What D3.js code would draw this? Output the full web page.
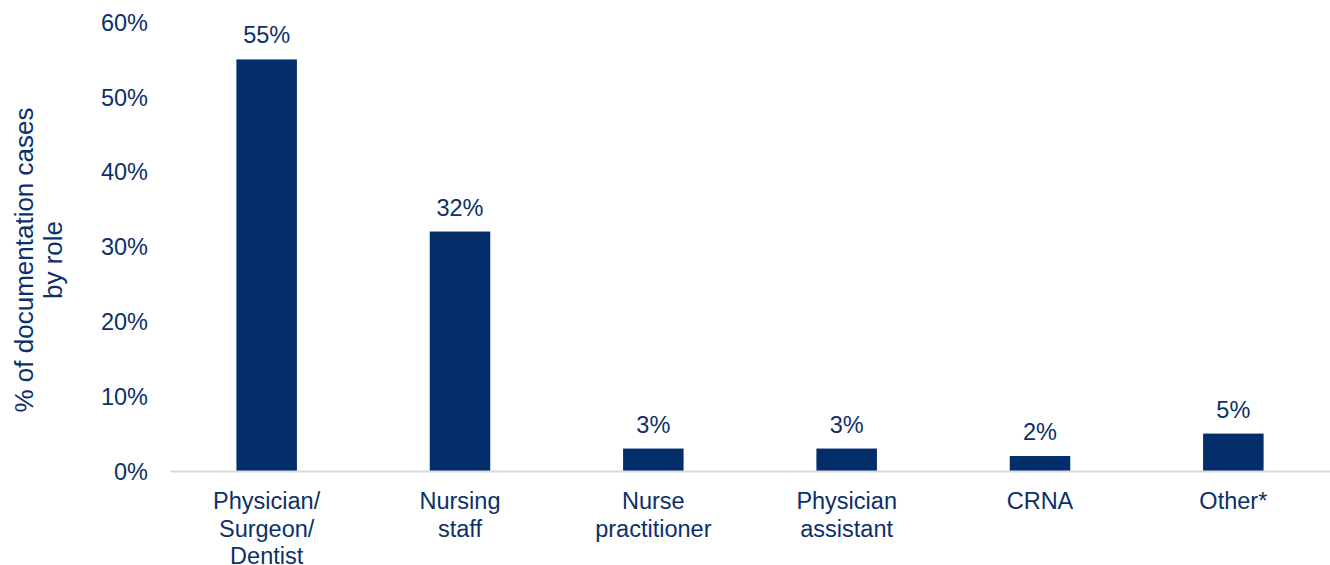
<!DOCTYPE html>
<html>
<head>
<meta charset="utf-8">
<script src="https://cdn.jsdelivr.net/npm/d3@7"></script>
<style>
  html, body { margin: 0; padding: 0; background: #fff; }
  svg { display: block; }
  text { font-family: "Liberation Sans", Arial, sans-serif; fill: #0c3069; }
</style>
</head>
<body>
<svg id="chart" width="1330" height="565"></svg>
<script>
const categories = [
  ["Physician/", "Surgeon/", "Dentist"],
  ["Nursing", "staff"],
  ["Nurse", "practitioner"],
  ["Physician", "assistant"],
  ["CRNA"],
  ["Other*"]
];
const values = [55, 32, 3, 3, 2, 5];
const yTicks = [0, 10, 20, 30, 40, 50, 60];
const yTitle = ["% of documentation cases", "by role"];

const svg = d3.select("#chart");
const barColor = "#032e69";
const textColor = "#0c3069";

const keys = categories.map(c => c.join(" "));
const x = d3.scaleBand().domain(keys).range([170, 1330]).paddingInner(0.687).paddingOuter(0.3435);
const y = d3.scaleLinear().domain([0, 60]).range([471, 22]);

// Y axis ticks (no line)
const yAxis = d3.axisLeft(y).tickValues(yTicks).tickFormat(d => d + "%").tickSize(0).tickPadding(0);
const gy = svg.append("g").attr("transform", "translate(148,0)").call(yAxis);
gy.select(".domain").remove();
gy.selectAll("text").attr("font-size", "23.5px").attr("fill", textColor)
  .style("font-family", '"Liberation Sans", Arial, sans-serif').attr("dy", "0.35em");

// Bars
svg.append("g").selectAll("rect").data(values).join("rect")
  .attr("x", (d, i) => x(keys[i]))
  .attr("y", d => y(d))
  .attr("width", x.bandwidth())
  .attr("height", d => y(0) - y(d))
  .attr("fill", barColor);

// X axis baseline
const xAxis = d3.axisBottom(x).tickSize(0).tickFormat("");
const gx = svg.append("g").attr("transform", `translate(0,${y(0)})`).call(xAxis);
gx.select(".domain").attr("stroke", "#d9d9e0").attr("stroke-width", 2);
gx.selectAll(".tick text").remove();

// Category labels
const labels = svg.append("g").selectAll("text").data(categories).join("text")
  .attr("text-anchor", "middle")
  .attr("font-size", "23.5px")
  .attr("x", (d, i) => x(keys[i]) + x.bandwidth() / 2)
  .attr("y", 509);
labels.selectAll("tspan").data(d => d).join("tspan")
  .attr("x", function() { return d3.select(this.parentNode).attr("x"); })
  .attr("dy", (d, i) => i === 0 ? 0 : 27.5)
  .text(d => d);

// Value labels
svg.append("g").selectAll("text").data(values).join("text")
  .attr("text-anchor", "middle")
  .attr("font-size", "23.5px")
  .attr("x", (d, i) => x(keys[i]) + x.bandwidth() / 2)
  .attr("y", d => y(d) - 16)
  .text(d => d + "%");

// Y title
const t = svg.append("text")
  .attr("transform", "translate(33,260) rotate(-90)")
  .attr("text-anchor", "middle")
  .attr("font-size", "26px");
t.selectAll("tspan").data(yTitle).join("tspan")
  .attr("x", 0)
  .attr("dy", (d, i) => i === 0 ? 0 : 29)
  .text(d => d);
</script>
</body>
</html>
